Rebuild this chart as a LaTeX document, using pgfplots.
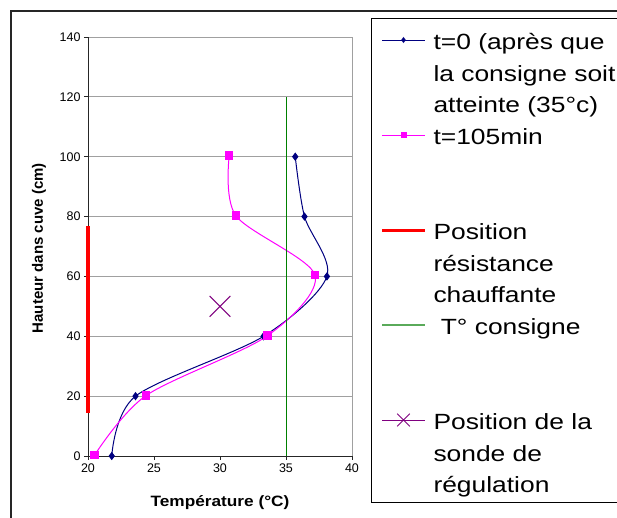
\documentclass[border=0pt]{standalone}
\usepackage{fontspec}
\setmainfont{Liberation Sans}
\newfontfamily\legfont{Liberation Sans}[FakeStretch=1.2]
\newfontfamily\xlabfont{Liberation Sans}[FakeStretch=1.15]
\usepackage{pgfplots}
\pgfplotsset{compat=1.18}
\definecolor{navyb}{RGB}{0,0,128}
\definecolor{magp}{RGB}{255,0,255}
\definecolor{greenc}{RGB}{0,128,0}
\definecolor{greenl}{RGB}{90,170,90}
\definecolor{purx}{RGB}{128,0,128}
\definecolor{gridg}{RGB}{160,160,160}
\pgfplotsset{
  leg/.style={legend image code/.code={\draw[mark repeat=2,mark phase=2,yshift=9.5bp,##1,mark size=#1] plot coordinates {(0bp,0bp) (21.5bp,0bp) (43bp,0bp)};}},
  greenleg/.style={legend image code/.code={\draw[yshift=9.5bp,draw=greenl,line width=2bp] (0bp,0bp) -- (43bp,0bp);}},
}
\newcommand{\lent}[1]{\parbox[t][95bp][t]{230bp}{\rule{0pt}{31bp}#1}}
\newcommand{\lentlast}[1]{\parbox[t]{230bp}{\rule{0pt}{31bp}#1\rule[-10bp]{0pt}{0pt}}}
\begin{document}
\begin{tikzpicture}
\useasboundingbox (0,0) rectangle (617bp,518bp);
\fill[white] (0,0) rectangle (617bp,518bp);
\draw[line width=1.5bp, black!85] (11bp,-10bp) -- (11bp,507bp) -- (630bp,507bp);
\begin{axis}[
  scale only axis, width=264bp, height=419bp,
  at={(88bp,62bp)}, anchor=south west,
  xmin=20, xmax=40, ymin=0, ymax=140,
  xtick={20,25,30,35,40}, ytick={0,20,...,140},
  axis lines=left, axis line style={-, line width=1bp, black!85},
  tick align=outside, major tick length=4bp, tick style={black!85, line width=0.8bp},
  ymajorgrids, grid style={gridg, line width=0.8bp},
  ticklabel style={font=\fontsize{12.5bp}{14bp}\selectfont},
  /pgf/number format/assume math mode=true,
  clip=false,
  xlabel={Température (°C)}, ylabel={Hauteur dans cuve (cm)},
  every axis x label/.style={at={(axis description cs:0.5,-0.112)}, anchor=center, font=\xlabfont\fontsize{15bp}{17bp}\selectfont\bfseries},
  every axis y label/.style={at={(axis description cs:-0.1856,0.496)}, rotate=90, anchor=center, font=\fontsize{15bp}{17bp}\selectfont\bfseries},
  legend style={at={(axis description cs:1.072,1.0453)}, anchor=north west, draw=black, line width=1bp,
    inner xsep=9bp, inner ysep=0bp, column sep=7bp,
    font=\legfont\fontsize{22bp}{31.5bp}\selectfont,
    cells={anchor=base west}, nodes={inner sep=0pt, text depth=}},
  leg=2pt,
]
\draw[gridg, line width=0.8bp] (axis cs:40,0) -- (axis cs:40,140);
\addplot[navyb, line width=1bp, smooth, mark=diamond*, mark size=3.4bp, mark options={solid, fill=navyb}, leg=2.2bp]
  coordinates {(21.8,0) (23.6,20) (33.3,40) (38.1,60) (36.4,80) (35.7,100)};
\addlegendentry{\lent{t=0 (après que\\la consigne soit\\atteinte (35°c)}}
\addplot[magp, line width=1bp, smooth, mark=square*, mark size=3.7bp, mark options={solid, fill=magp}, leg=2.5bp]
  coordinates {(20.5,0.3) (24.4,20.2) (33.6,40.2) (37.2,60.4) (31.2,80.3) (30.7,100.4)};
\addlegendentry{\lent{t=105min}}
\addplot[draw=red, line width=3bp, no marks] coordinates {(20,14.5) (20,77)};
\addlegendentry{\lent{Position\\résistance\\chauffante}}
\addplot[draw=greenc, line width=1bp, no marks, greenleg] coordinates {(35,0) (35,120)};
\addlegendentry{\lent{ T° consigne}}
\addplot[purx, line width=1bp, mark=x, mark size=14.7bp, leg=9bp]
  coordinates {(30,50)};
\addlegendentry{\lentlast{Position de la\\sonde de\\régulation}}
\end{axis}
\end{tikzpicture}
\end{document}
